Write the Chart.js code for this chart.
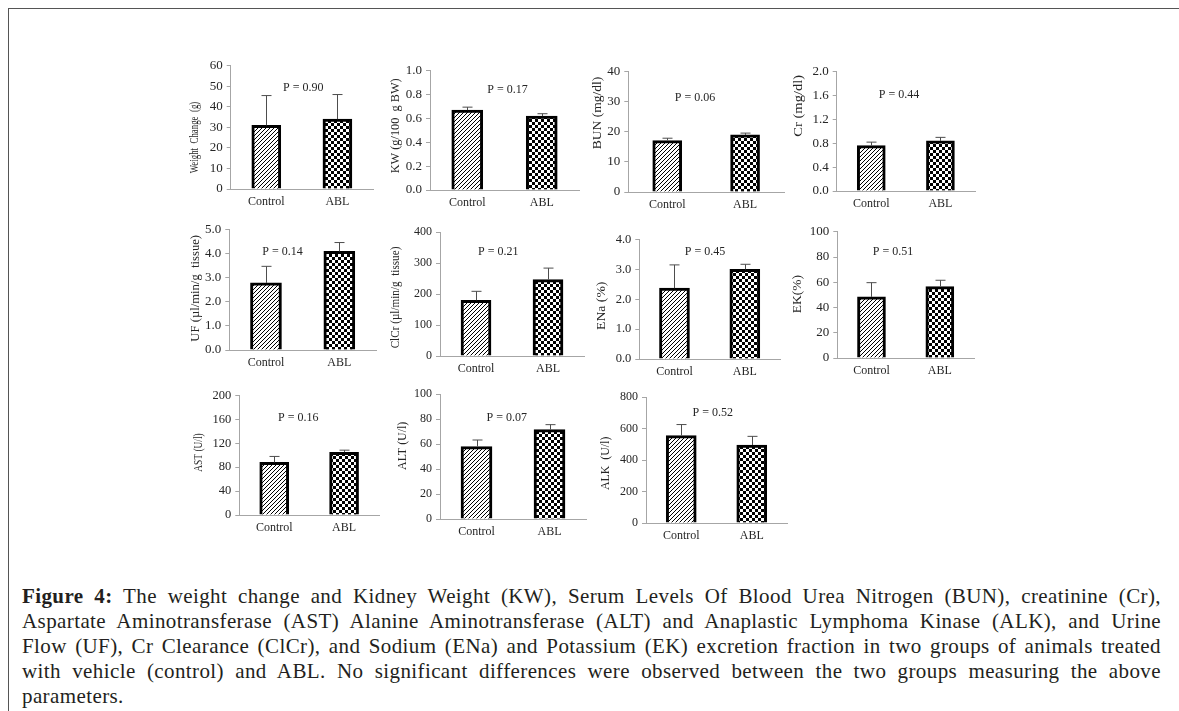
<!DOCTYPE html>
<html lang="en">
<head>
<meta charset="UTF-8">
<title>Figure 4 - Control vs ABL</title>
<script src="https://cdn.jsdelivr.net/npm/chart.js"></script>
<style>
  body { margin: 0; background: #fff; width: 1179px; height: 711px; overflow: hidden; position: relative;
         font-family: "Liberation Serif", "Times New Roman", serif; }
  .frame { position: absolute; left: 8px; top: 8px; width: 1200px; height: 720px;
           border-left: 1px solid #555; border-top: 1px solid #555; }
  canvas.panel { position: absolute; }
  .caption { position: absolute; left: 22px; top: 584px; width: 1139px; font-size: 21px;
             letter-spacing: 0.4px; line-height: 25px; color: #231f20; }
  .caption div { text-align: justify; text-align-last: justify; height: 25px; }
  .caption div.last { text-align-last: left; }
</style>
</head>
<body>
<div class="frame"></div>
<div id="charts"></div>

<div class="caption">
  <div><b>Figure 4:</b> The weight change and Kidney Weight (KW), Serum Levels Of Blood Urea Nitrogen (BUN), creatinine (Cr),</div>
  <div>Aspartate Aminotransferase (AST) Alanine Aminotransferase (ALT) and Anaplastic Lymphoma Kinase (ALK), and Urine</div>
  <div>Flow (UF), Cr Clearance (ClCr), and Sodium (ENa) and Potassium (EK) excretion fraction in two groups of animals treated</div>
  <div>with vehicle (control) and ABL. No significant differences were observed between the two groups measuring the above</div>
  <div class="last">parameters.</div>
</div>

<script>
// data
const categories = ['Control', 'ABL'];
const yTitles = ['Weight  Change  (g)', 'KW (g/100  g BW)', 'BUN (mg/dl)', 'Cr (mg/dl)',
                 'UF (µl/min/g  tissue)', 'ClCr (µl/min/g  tissue)', 'ENa (%)', 'EK(%)',
                 'AST (U/l)', 'ALT (U/l)', 'ALK  (U/l)'];
const controlMean = [31, 0.67, 17.1, 0.76, 2.79, 180, 2.37, 48.4, 88, 58, 556];
const controlErr  = [14.5, 0.025, 0.8, 0.06, 0.69, 29, 0.78, 11.3, 10, 5.3, 70];
const ablMean     = [34, 0.62, 19.0, 0.84, 4.1, 247, 3.0, 56.6, 105, 71.6, 496];
const ablErr      = [12, 0.02, 0.6, 0.06, 0.37, 37, 0.17, 5, 3.5, 4, 55];
const pValues     = ['0.90', '0.17', '0.06', '0.44', '0.14', '0.21', '0.45', '0.51', '0.16', '0.07', '0.52'];
const yMax        = [60, 1.0, 40, 2.0, 5.0, 400, 4.0, 100, 200, 100, 800];
const yStep       = [10, 0.2, 10, 0.4, 1.0, 100, 1.0, 20, 40, 20, 200];
const yDecimals   = [0, 1, 0, 1, 1, 0, 1, 0, 0, 0, 0];

// panel placement on the page (axis x, top tick y, zero y, right end, title centre/length, P label centre)
const panels = [
  {ax: 230.7, top: 64.3,  zero: 188.3, right: 372.7, tx: 194.5, ty: 137.5, tlen: 71.6,  px: 303.3, py: 88.3,  barW: 29, tick: 13},
  {ax: 430.0, top: 69.0,  zero: 190.0, right: 578.6, tx: 395.5, ty: 125.8, tlen: 95.0,  px: 507.5, py: 90.0,  barW: 31, tick: 13},
  {ax: 628.3, top: 70.7,  zero: 191.7, right: 784.0, tx: 598.0, ty: 113.0, tlen: 72.7,  px: 695.0, py: 98.3,  barW: 29, tick: 13},
  {ax: 836.7, top: 70.0,  zero: 191.0, right: 974.9, tx: 799.0, ty: 105.8, tlen: 61.7,  px: 899.0, py: 95.0,  barW: 28, tick: 13},
  {ax: 229.3, top: 228.3, zero: 349.3, right: 375.7, tx: 195.5, ty: 288.3, tlen: 106.7, px: 282.5, py: 251.7, barW: 31, tick: 13},
  {ax: 440.0, top: 231.7, zero: 355.7, right: 583.3, tx: 395.5, ty: 297.5, tlen: 101.7, px: 498.3, py: 252.3, barW: 30, tick: 12},
  {ax: 639.3, top: 238.3, zero: 359.0, right: 779.9, tx: 602.0, ty: 305.8, tlen: 48.3,  px: 705.0, py: 252.3, barW: 30, tick: 12.5},
  {ax: 837.3, top: 230.7, zero: 357.3, right: 973.4, tx: 798.0, ty: 294.2, tlen: 38.3,  px: 893.0, py: 251.7, barW: 28, tick: 13},
  {ax: 239.3, top: 394.3, zero: 515.0, right: 378.1, tx: 199.0, ty: 452.5, tlen: 38.3,  px: 298.3, py: 418.3, barW: 29, tick: 12.5},
  {ax: 440.0, top: 393.3, zero: 519.0, right: 585.8, tx: 402.5, ty: 445.8, tlen: 48.3,  px: 506.7, py: 417.7, barW: 31, tick: 12},
  {ax: 646.0, top: 396.7, zero: 522.3, right: 786.7, tx: 606.0, ty: 463.3, tlen: 53.3,  px: 712.7, py: 412.7, barW: 30, tick: 12}
];

const FONT = '"Liberation Serif", "Times New Roman", serif';
const TEXT = '#262626';
const AXIS = '#a6a6a6';
const X_AXIS_H = 24;

// fill patterns: diagonal hatch for Control, checkerboard for ABL
function makeHatch() {
  const c = document.createElement('canvas');
  c.width = 4; c.height = 4;
  const g = c.getContext('2d');
  g.fillStyle = '#fff'; g.fillRect(0, 0, 4, 4);
  g.strokeStyle = '#000'; g.lineWidth = 1;
  g.beginPath();
  g.moveTo(-1, 5); g.lineTo(5, -1);
  g.moveTo(-1, 1); g.lineTo(1, -1);
  g.moveTo(3, 5); g.lineTo(5, 3);
  g.stroke();
  return g.createPattern(c, 'repeat');
}
function makeChecker() {
  const c = document.createElement('canvas');
  c.width = 6; c.height = 6;
  const g = c.getContext('2d');
  g.fillStyle = '#fff'; g.fillRect(0, 0, 6, 6);
  g.fillStyle = '#000';
  g.fillRect(0, 0, 3, 3); g.fillRect(3, 3, 3, 3);
  return g.createPattern(c, 'repeat');
}
const hatch = makeHatch();
const checker = makeChecker();

// upper error bars
const errorBars = {
  id: 'errorBars',
  afterDatasetsDraw(chart, args, opts) {
    const ctx = chart.ctx;
    const y = chart.scales.y;
    const meta = chart.getDatasetMeta(0);
    ctx.save();
    ctx.strokeStyle = '#4d4d4d';
    ctx.lineWidth = 1;
    meta.data.forEach((bar, j) => {
      const v = chart.data.datasets[0].data[j];
      const yTop = y.getPixelForValue(v + opts.errors[j]);
      const x = Math.round(bar.x) + 0.5;
      ctx.beginPath();
      ctx.moveTo(x, bar.y);
      ctx.lineTo(x, yTop);
      ctx.moveTo(x - 5, yTop);
      ctx.lineTo(x + 5, yTop);
      ctx.stroke();
    });
    ctx.restore();
  }
};

// P value label and rotated y title
const panelText = {
  id: 'panelText',
  afterDraw(chart, args, opts) {
    const ctx = chart.ctx;
    ctx.save();
    ctx.fillStyle = TEXT;
    ctx.font = '12px ' + FONT;
    ctx.textAlign = 'center';
    ctx.textBaseline = 'middle';
    ctx.fillText('P = ' + opts.p, opts.px, opts.py);

    ctx.font = '12px ' + FONT;
    const w = ctx.measureText(opts.title).width;
    ctx.translate(opts.tx, opts.ty);
    ctx.rotate(-Math.PI / 2);
    ctx.scale(opts.tlen / w, 1);
    ctx.fillText(opts.title, 0, 0);
    ctx.restore();
  }
};

const holder = document.getElementById('charts');

panels.forEach((pn, i) => {
  const left = Math.floor(pn.tx - 10);
  const top = Math.floor(pn.top - 10);
  const width = Math.ceil(pn.right - left + 2);
  const height = Math.ceil(pn.zero - top + X_AXIS_H);
  const yAxisW = pn.ax - left;
  const padTop = pn.top - top;

  const cv = document.createElement('canvas');
  cv.className = 'panel';
  cv.width = width; cv.height = height;
  cv.style.left = left + 'px';
  cv.style.top = top + 'px';
  cv.style.width = width + 'px';
  cv.style.height = height + 'px';
  holder.appendChild(cv);

  new Chart(cv.getContext('2d'), {
    type: 'bar',
    data: {
      labels: categories,
      datasets: [{
        data: [controlMean[i], ablMean[i]],
        backgroundColor: [hatch, checker],
        borderColor: '#000',
        borderWidth: 3,
        barThickness: pn.barW
      }]
    },
    options: {
      responsive: false,
      devicePixelRatio: 1,
      animation: false,
      layout: { padding: { top: padTop, right: 2, bottom: 0, left: 0 } },
      plugins: {
        legend: { display: false },
        tooltip: { enabled: false },
        errorBars: { errors: [controlErr[i], ablErr[i]] },
        panelText: {
          p: pValues[i], title: yTitles[i],
          px: pn.px - left, py: pn.py - top,
          tx: pn.tx - left, ty: pn.ty - top, tlen: pn.tlen
        }
      },
      scales: {
        x: {
          grid: { display: false, drawTicks: false },
          border: { display: true, color: AXIS, width: 1 },
          ticks: { color: TEXT, font: { family: FONT, size: 12 }, padding: 6 },
          afterFit(s) { s.height = X_AXIS_H; }
        },
        y: {
          min: 0,
          max: yMax[i],
          grid: { drawOnChartArea: false, drawTicks: true, tickLength: 4, color: AXIS },
          border: { display: true, color: AXIS, width: 1 },
          ticks: {
            stepSize: yStep[i],
            color: TEXT,
            font: { family: FONT, size: pn.tick },
            padding: 4,
            callback: v => Number(v).toFixed(yDecimals[i])
          },
          afterFit(s) { s.width = yAxisW; }
        }
      }
    },
    plugins: [errorBars, panelText]
  });
});
</script>
</body>
</html>
